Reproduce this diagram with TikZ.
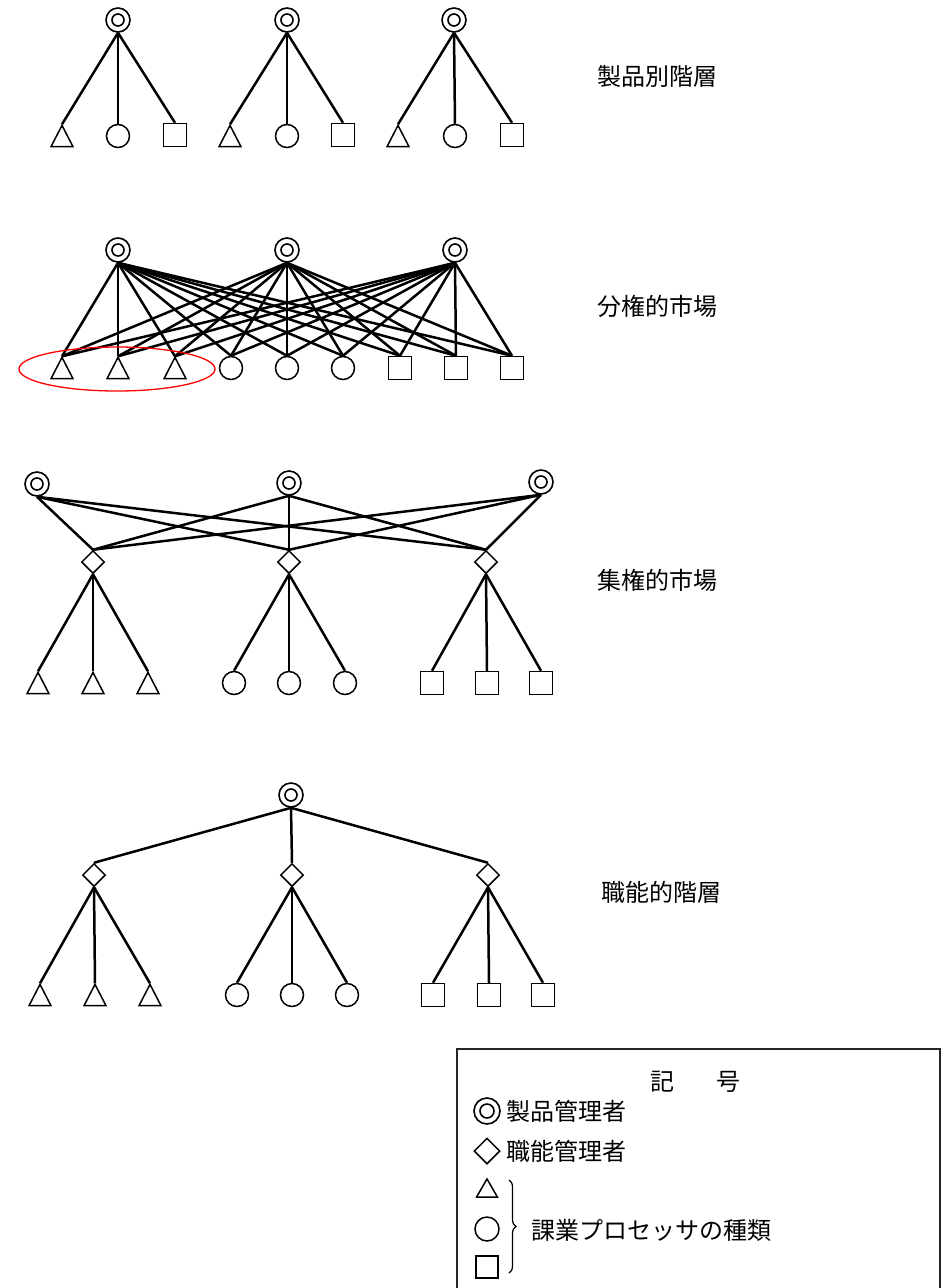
\documentclass[tikz,border=0pt]{standalone}
\usepackage{fontspec}
\setmainfont{Noto Sans CJK JP}
\usetikzlibrary{shapes.geometric,decorations.pathreplacing}
\tikzset{
  mgr/.style={circle, draw, fill=white, line width=1.6pt, minimum size=24pt, inner sep=0pt,
    path picture={\draw[line width=1.6pt] (path picture bounding box.center) circle (#1);}},
  mgr/.default=6pt,
  fmgr/.style={diamond, draw, fill=white, line width=1.5pt, minimum width=23pt, minimum height=23pt, inner sep=0pt},
  tri/.style={rectangle, fill=white, inner sep=0pt, minimum width=24pt, minimum height=23pt,
    path picture={\draw[line width=1.5pt, line join=miter]
      ([yshift=-0.9pt]path picture bounding box.north) --
      ([xshift=-1pt,yshift=0.8pt]path picture bounding box.south east) --
      ([xshift=1pt,yshift=0.8pt]path picture bounding box.south west) -- cycle;}},
  cnode/.style={circle, draw, fill=white, line width=1.5pt, minimum size=23pt, inner sep=0pt},
  snode/.style={rectangle, draw, fill=white, line width=1.5pt, minimum size=23pt, inner sep=0pt},
  conn/.style={line width=2.5pt},
  lbl/.style={font=\fontsize{24}{29}\selectfont, inner sep=0pt},
}
\begin{document}
\begin{tikzpicture}[x=1pt,y=-1pt]
\useasboundingbox (0,0) rectangle (945,1288);

% ---------- Section 1: 製品別階層 ----------
\foreach \g/\xm/\xt/\xc/\xs in {1/118/62/118/175, 2/287/230/287/343, 3/454/398/455/512} {
  \node[mgr] (a\g) at (\xm,20) {};
  \node[tri] (a\g-t) at (\xt,136) {};
  \node[cnode] (a\g-c) at (\xc,136) {};
  \node[snode] (a\g-s) at (\xs,135) {};
  \draw[conn] (a\g.south) -- (a\g-t.north);
  \draw[conn] (a\g.south) -- (a\g-c.north);
  \draw[conn] (a\g.south) -- (a\g-s.north);
}
\node[lbl, anchor=west] (lab1) at (597,76) {製品別階層};

% ---------- Section 2: 分権的市場 ----------
\foreach \i/\x in {1/118, 2/287, 3/455}
  \node[mgr] (b\i) at (\x,250) {};
\foreach \j/\x/\s in {1/62/tri, 2/118/tri, 3/175/tri, 4/231/cnode, 5/287/cnode, 6/343/cnode, 7/400/snode, 8/456/snode, 9/512/snode}
  \node[\s] (bb\j) at (\x,368) {};
\foreach \i in {1,2,3}
  \foreach \j in {1,...,9}
    \draw[conn] (b\i.south) -- (bb\j.north);
\draw[red, line width=1.3pt] (117,369) ellipse [x radius=98, y radius=22];
\node[lbl, anchor=west] (lab2) at (597,306) {分権的市場};

% ---------- Section 3: 集権的市場 ----------
\foreach \i/\x/\y in {1/37/484, 2/289/483, 3/541/482}
  \node[mgr] (c\i) at (\x,\y) {};
\foreach \k/\x in {1/93, 2/289, 3/486}
  \node[fmgr] (cd\k) at (\x,562) {};
\foreach \i in {1,2,3}
  \foreach \k in {1,2,3}
    \draw[conn] (c\i.south) -- (cd\k.north);
\foreach \j/\x/\s/\k in {1/38/tri/1, 2/93/tri/1, 3/148/tri/1, 4/234/cnode/2, 5/289/cnode/2, 6/345/cnode/2, 7/432/snode/3, 8/487/snode/3, 9/541/snode/3} {
  \node[\s] (cb\j) at (\x,683) {};
  \draw[conn] (cd\k.south) -- (cb\j.north);
}
\node[lbl, anchor=west] (lab3) at (597,580) {集権的市場};

% ---------- Section 4: 職能的階層 ----------
\node[mgr] (d0) at (291,795) {};
\foreach \k/\x in {1/94, 2/292, 3/488} {
  \node[fmgr] (dd\k) at (\x,875) {};
  \draw[conn] (d0.south) -- (dd\k.north);
}
\foreach \j/\x/\s/\k in {1/40/tri/1, 2/95/tri/1, 3/150/tri/1, 4/237/cnode/2, 5/292/cnode/2, 6/347/cnode/2, 7/433/snode/3, 8/489/snode/3, 9/543/snode/3} {
  \node[\s] (db\j) at (\x,995) {};
  \draw[conn] (dd\k.south) -- (db\j.north);
}
\node[lbl, anchor=west] (lab4) at (601,892) {職能的階層};

% ---------- Legend ----------
\draw[line width=1.2pt, black!85] (457,1288) -- (457,1049) -- (940,1049) -- (940,1288);
\node[lbl] (Lt) at (695,1082) {記\hspace{42pt}号};
\node[mgr=7pt, minimum size=26pt] (L1) at (487,1111) {};
\node[lbl, anchor=west] (L1t) at (506,1111) {製品管理者};
\node[fmgr, minimum width=26pt, minimum height=26pt] (L2) at (487,1151) {};
\node[lbl, anchor=west] (L2t) at (506,1151) {職能管理者};
\node[tri, minimum width=23pt, minimum height=20pt] (L3) at (487,1188) {};
\node[cnode, minimum size=24pt] (L4) at (487,1229) {};
\node[snode, minimum size=22pt] (L5) at (487,1267) {};
\draw[decorate, decoration={brace, amplitude=7pt}, line width=1.2pt] (509,1180) -- (509,1273);
\node[lbl, anchor=west] (L6) at (531,1230) {課業プロセッサの種類};
\end{tikzpicture}
\end{document}
